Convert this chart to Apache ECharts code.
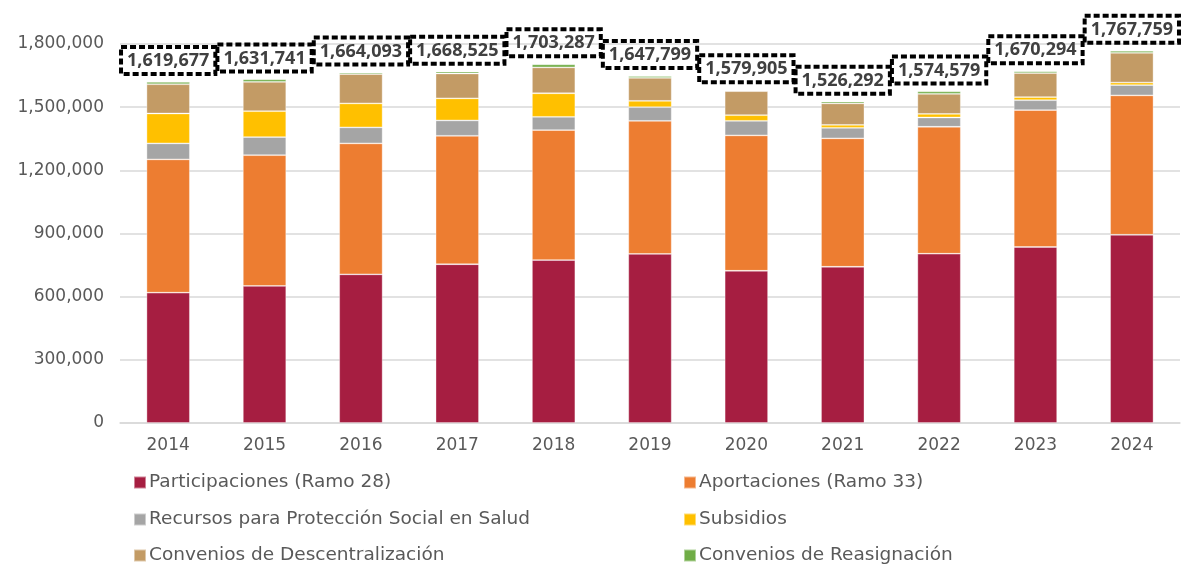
<!DOCTYPE html>
<html>
<head>
<meta charset="utf-8">
<script src="https://cdn.jsdelivr.net/npm/echarts@6/dist/echarts.min.js"></script>
<style>
html,body{margin:0;padding:0;background:#fff;}
#c{width:1181px;height:565px;}
</style>
</head>
<body>
<div id="c"></div>
<script>
const years = ['2014','2015','2016','2017','2018','2019','2020','2021','2022','2023','2024'];
const participaciones = [619000, 651000, 706000, 754000, 774000, 803000, 723000, 742000, 804000, 836000, 894000];
const aportaciones = [633000, 621000, 622000, 610000, 617000, 632000, 643000, 610000, 603000, 650000, 662000];
const proteccionSocial = [76000, 86000, 76000, 73000, 63000, 65000, 69000, 50000, 44000, 47000, 49000];
const subsidios = [142000, 123000, 114000, 105000, 112000, 30000, 27000, 14000, 17000, 15000, 12000];
const descentralizacion = [139000, 139000, 139000, 118000, 123000, 109000, 114000, 102000, 95000, 114000, 141000];
const reasignacion = [10677, 11741, 7093, 8525, 14287, 8799, 3905, 8292, 11579, 8294, 9759];
const totals = [1619677, 1631741, 1664093, 1668525, 1703287, 1647799, 1579905, 1526292, 1574579, 1670294, 1767759];
const yTicks = [0, 300000, 600000, 900000, 1200000, 1500000, 1800000];

const seriesNames = ['Participaciones (Ramo 28)','Aportaciones (Ramo 33)','Recursos para Protección Social en Salud','Subsidios','Convenios de Descentralización','Convenios de Reasignación'];
const seriesData = [participaciones, aportaciones, proteccionSocial, subsidios, descentralizacion, reasignacion];
const colors = ['#A61E41','#ED7D31','#A5A5A5','#FFC000','#C39B65','#70AD47'];

const fmt = v => Number(v).toLocaleString('en-US');
const FONT = '"DejaVu Sans", sans-serif';
const BOLD_FONT = '"Open Sans", sans-serif';

const chart = echarts.init(document.getElementById('c'), null, {renderer:'canvas'});

const legendPos = [
  {left:128, top:468}, {left:678, top:468},
  {left:128, top:505}, {left:678, top:505},
  {left:128, top:541}, {left:678, top:541}
];

const series = seriesNames.map((name, i) => {
  const s = {
    name: name,
    type: 'bar',
    stack: 'total',
    barWidth: '45%',
    data: seriesData[i],
    itemStyle: {color: colors[i], borderColor: 'rgba(255,255,255,0.45)', borderWidth: 0.8},
    emphasis: {disabled: true}
  };
  if (i === seriesNames.length - 1) {
    s.label = {
      show: true,
      position: 'top',
      distance: 8,
      formatter: p => fmt(totals[p.dataIndex]),
      fontFamily: BOLD_FONT,
      fontWeight: 'bold',
      fontSize: 18,
      color: '#404040',
      borderColor: '#000',
      borderWidth: 2,
      borderType: [6, 3],
      padding: [5, 6, 4, 6],
      backgroundColor: 'rgba(255,255,255,0)'
    };
  }
  return s;
});

chart.setOption({
  animation: false,
  color: colors,
  grid: {left: 120, right: 1, top: 44, bottom: 142},
  legend: seriesNames.map((n, i) => ({
    data: [n],
    left: legendPos[i].left,
    top: legendPos[i].top,
    icon: 'rect',
    itemWidth: 12,
    itemHeight: 12,
    itemGap: 0,
    selectedMode: false,
    textStyle: {fontFamily: FONT, fontSize: 18.5, color: '#595959', padding: [0,0,0,-2]}
  })),
  xAxis: {
    type: 'category',
    data: years,
    axisLine: {show: true, lineStyle: {color: '#d9d9d9', width: 1.5}},
    axisTick: {show: false},
    axisLabel: {fontFamily: FONT, fontSize: 17, color: '#595959', margin: 14}
  },
  yAxis: {
    type: 'value',
    min: yTicks[0],
    max: yTicks[yTicks.length - 1],
    interval: yTicks[1] - yTicks[0],
    axisLine: {show: false},
    axisTick: {show: false},
    splitLine: {lineStyle: {color: '#d9d9d9', width: 1.5}},
    axisLabel: {fontFamily: FONT, fontSize: 17, color: '#595959', margin: 16, formatter: v => fmt(v)}
  },
  series: series
});
</script>
</body>
</html>
